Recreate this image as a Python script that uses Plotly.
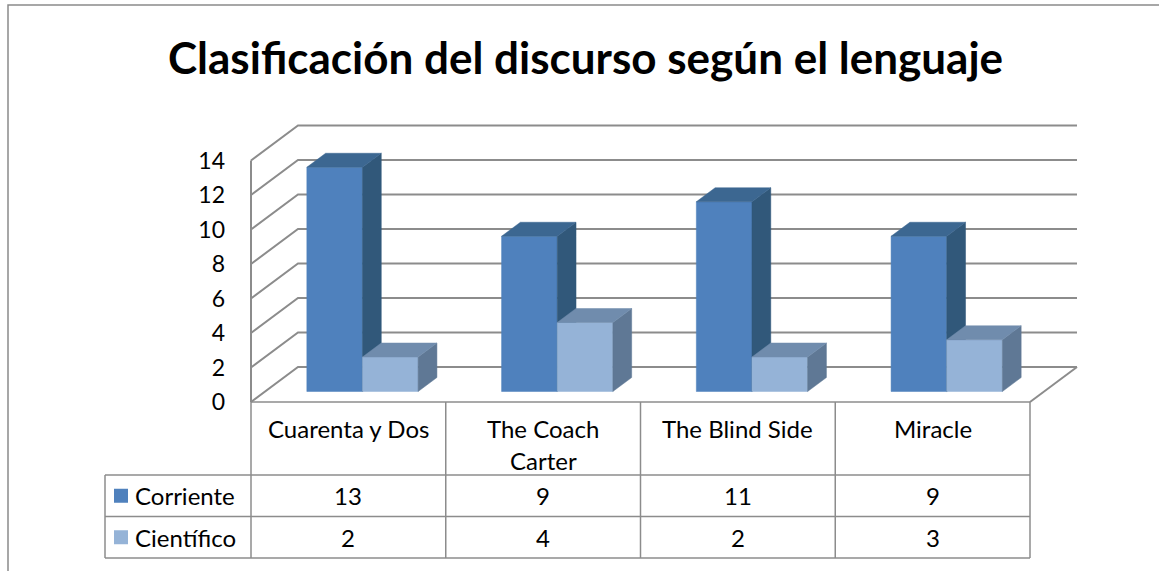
import plotly.graph_objects as go

# ---------------- data ----------------
categories = ["Cuarenta y Dos", "The Coach<br>Carter", "The Blind Side", "Miracle"]
series_names = ["Corriente", "Científico"]
corriente = [13, 9, 11, 9]
cientifico = [2, 4, 2, 3]
y_ticks = [0, 2, 4, 6, 8, 10, 12, 14]
title_text = "Clasificación del discurso según el lenguaje"

# ---------------- geometry / style ----------------
W, H = 1159, 571
X0, CW = 251, 194.75        # pixel of category 0 front edge, pixels per category
Y0, PU = 402, 17.25         # pixel of value 0 (front), pixels per value unit
DX, DY = 47, 35             # 3-D depth offset in pixels
FONT = "Lato"
GRID = "#8c8c8c"
TXT = "#000000"
TS = 24                     # table / label font size

dxu = DX / CW
dyu = DY / PU
n = len(categories)


def xd(px):
    return (px - X0) / CW


def yd(py):
    return (Y0 - py) / PU


fig = go.Figure()

# walls / gridlines
gx, gy = [], []
for v in y_ticks:
    gx += [0, dxu, n + dxu, None]
    gy += [v, v + dyu, v + dyu, None]
gx += [0, 0, None, n, n + dxu, None]
gy += [0, max(y_ticks), None, 0, dyu, None]
fig.add_trace(go.Scatter(x=gx, y=gy, mode="lines", line=dict(color=GRID, width=2),
                         hoverinfo="skip", showlegend=False))

# 3-D bars
series = [corriente, cientifico]
palette = [
    dict(front="#4F81BD", side="#31587A", top="#3C6791"),
    dict(front="#95B3D7", side="#5F7895", top="#708CAD"),
]
bw = 1 / 3.5
f0, fd = 0.3, 0.4
ox0, oy0 = f0 * dxu, f0 * dyu
ox1, oy1 = (f0 + fd) * dxu, (f0 + fd) * dyu
for s, vals in enumerate(series):
    for face in ["front", "side", "top"]:
        px_, py_ = [], []
        for i, v in enumerate(vals):
            xl = i + 0.5 - bw + s * bw
            xr = xl + bw
            if face == "front":
                px_ += [xl + ox0, xr + ox0, xr + ox0, xl + ox0, xl + ox0, None]
                py_ += [oy0, oy0, v + oy0, v + oy0, oy0, None]
            elif face == "side":
                px_ += [xr + ox0, xr + ox1, xr + ox1, xr + ox0, xr + ox0, None]
                py_ += [oy0, oy1, v + oy1, v + oy0, oy0, None]
            else:
                px_ += [xl + ox0, xr + ox0, xr + ox1, xl + ox1, xl + ox0, None]
                py_ += [v + oy0, v + oy0, v + oy1, v + oy1, v + oy0, None]
        c = palette[s][face]
        fig.add_trace(go.Scatter(x=px_, y=py_, fill="toself", fillcolor=c, mode="lines",
                                 line=dict(color=c, width=0.5), hoverinfo="skip",
                                 showlegend=False, name=series_names[s]))

# ---------------- data table ----------------
shapes = []
line_style = dict(color=GRID, width=1.5)
row_tops = [402, 475, 516.5, 558]
shapes.append(dict(type="line", xref="x", yref="y", x0=0, x1=n, y0=yd(402), y1=yd(402), line=line_style))
for py in row_tops[1:]:
    shapes.append(dict(type="line", xref="x", yref="y", x0=xd(105), x1=n, y0=yd(py), y1=yd(py), line=line_style))
for i in range(n + 1):
    shapes.append(dict(type="line", xref="x", yref="y", x0=i, x1=i, y0=yd(402), y1=yd(558), line=line_style))
shapes.append(dict(type="line", xref="x", yref="y", x0=xd(105), x1=xd(105), y0=yd(475), y1=yd(558), line=line_style))

# outer chart border
shapes.append(dict(type="path", xref="paper", yref="paper",
                   path=f"M {8/W} 0 L {8/W} {1-5/H} L 1 {1-5/H}",
                   line=dict(color="#8a8a8a", width=1.5)))

annotations = []
annotations.append(dict(text=f"<b>{title_text}</b>", xref="paper", yref="paper",
                        x=585 / W, y=1 - 57 / H, xanchor="center", yanchor="middle",
                        showarrow=False, font=dict(family=FONT, size=44, color=TXT)))
for i, cat in enumerate(categories):
    for k, line in enumerate(cat.split("<br>")):
        annotations.append(dict(text=line, xref="x", yref="y", x=i + 0.5, y=yd(428 + 32 * k),
                                xanchor="center", yanchor="middle", showarrow=False,
                                font=dict(family=FONT, size=TS, color=TXT)))
row_centers = [495.75, 537.25]
for s, vals in enumerate(series):
    yc = yd(row_centers[s])
    for i, v in enumerate(vals):
        annotations.append(dict(text=str(v), xref="x", yref="y", x=i + 0.5, y=yc,
                                xanchor="center", yanchor="middle", showarrow=False,
                                font=dict(family=FONT, size=TS, color=TXT)))
    annotations.append(dict(text=series_names[s], xref="x", yref="y", x=xd(133), y=yc,
                            xanchor="left", yanchor="middle", showarrow=False,
                            font=dict(family=FONT, size=TS, color=TXT)))
    shapes.append(dict(type="rect", xref="x", yref="y", x0=xd(114), x1=xd(128),
                       y0=yc - 7 / PU, y1=yc + 7 / PU,
                       fillcolor=palette[s]["front"], line=dict(width=0)))

fig.update_layout(
    width=W, height=H, autosize=False,
    margin=dict(l=0, r=0, t=0, b=0),
    paper_bgcolor="white", plot_bgcolor="white",
    showlegend=False,
    shapes=shapes, annotations=annotations,
    xaxis=dict(range=[xd(0), xd(W)], visible=False, fixedrange=True),
    yaxis=dict(range=[yd(H), yd(0)], anchor="free", position=X0 / W,
               tickvals=y_ticks, ticktext=[str(t) for t in y_ticks],
               showgrid=False, zeroline=False, showline=False, ticks="",
               ticklabelstandoff=26,
               tickfont=dict(family=FONT, size=23, color=TXT), fixedrange=True),
)

fig.write_html("out.html", config={"displayModeBar": False},
               post_script="document.body.style.margin='0';document.body.style.overflow='hidden';")
